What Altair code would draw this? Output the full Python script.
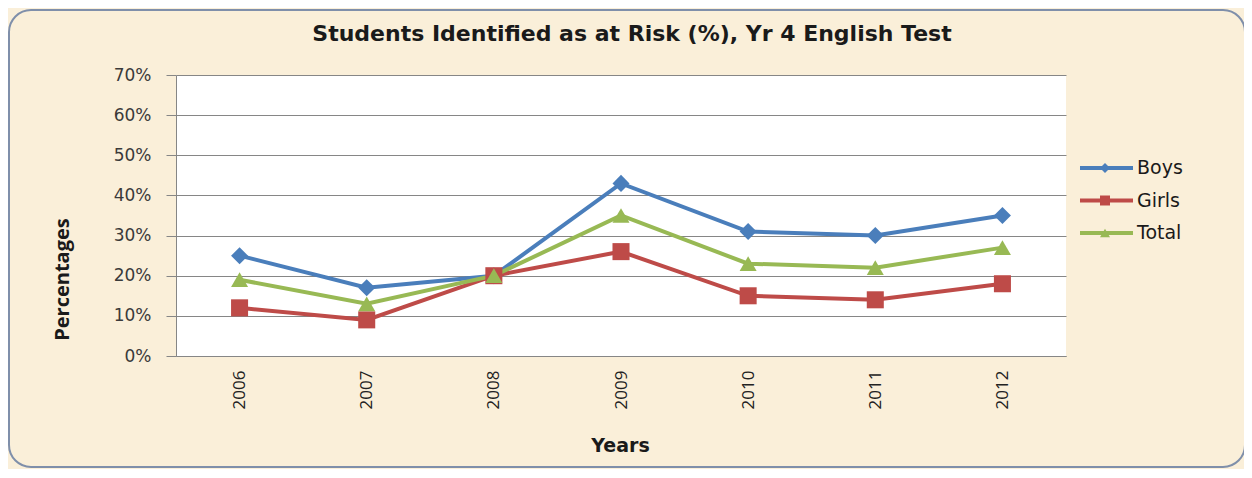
import altair as alt
import pandas as pd

years = ["2006", "2007", "2008", "2009", "2010", "2011", "2012"]
boys = [25, 17, 20, 43, 31, 30, 35]
girls = [12, 9, 20, 26, 15, 14, 18]
total = [19, 13, 20, 35, 23, 22, 27]
series = ["Boys", "Girls", "Total"]
colors = ["#4A7EBB", "#BE4B48", "#98B954"]
shapes = ["diamond", "square", "triangle-up"]
y_ticks = [0, 0.1, 0.2, 0.3, 0.4, 0.5, 0.6, 0.7]

rows = []
for name, vals in zip(series, [boys, girls, total]):
    for yr, v in zip(years, vals):
        rows.append({"Year": yr, "Series": name, "Value": v / 100})
df = pd.DataFrame(rows)
leg = pd.DataFrame({"Series": series})

W, H = 890, 281
color_scale = alt.Scale(domain=series, range=colors)
shape_scale = alt.Scale(domain=series, range=shapes)
x_scale = alt.Scale(type="point", padding=0.5)

x_enc = alt.X(
    "Year:O",
    scale=x_scale,
    axis=alt.Axis(
        title="Years", labelAngle=270, ticks=False, domain=True, domainColor="#868686",
        labelFont="Open Sans", labelFontSize=17, labelColor="#222222", labelPadding=14,
        titleFont="DejaVu Sans", titleFontSize=19, titleFontWeight="bold", titleColor="#1a1a1a",
        titleX=444, titleY=89, titleBaseline="middle", titleAlign="center",
    ),
)
y_scale = alt.Scale(domain=[0, 0.7], nice=False, zero=True)
y_enc = alt.Y(
    "Value:Q",
    scale=y_scale,
    axis=alt.Axis(
        title="Percentages", format=".0%", values=y_ticks, grid=True, gridColor="#868686",
        gridWidth=1, tickSize=10, tickColor="#868686", domainColor="#868686",
        labelFont="DejaVu Sans", labelFontSize=17, labelColor="#3a3a3a", labelPadding=15,
        titleFont="Open Sans", titleFontSize=20, titleFontWeight="bold", titleColor="#1a1a1a",
        titleX=-114, titleY=204, titleAngle=270, titleAlign="center", titleBaseline="middle",
    ),
)

frame = alt.Chart(alt.Data(values=[{"k": 1}])).mark_rect(
    fillOpacity=0, stroke="#7F8FAA", strokeWidth=2, cornerRadius=22
).encode(x=alt.value(-167), x2=alt.value(1069), y=alt.value(-65), y2=alt.value(392))

lines = alt.Chart(df).mark_line(strokeWidth=4).encode(
    x=x_enc, y=y_enc,
    color=alt.Color("Series:N", scale=color_scale, legend=None),
)
points = alt.Chart(df).mark_point(filled=True, size=290, opacity=1).encode(
    x=x_enc,
    y=alt.Y("Value:Q", scale=y_scale, axis=None),
    color=alt.Color("Series:N", scale=color_scale, legend=None),
    shape=alt.Shape("Series:N", scale=shape_scale, legend=None),
)

leg_y = alt.Y("Series:N", scale=alt.Scale(type="point", domain=series, range=[93, 158], padding=0), axis=None)
leg_rule = alt.Chart(leg).mark_rule(strokeWidth=4).encode(
    y=leg_y, x=alt.value(904), x2=alt.value(957),
    color=alt.Color("Series:N", scale=color_scale, legend=None),
)
leg_pt = alt.Chart(leg).mark_point(filled=True, size=100, opacity=1).encode(
    y=leg_y, x=alt.value(929),
    color=alt.Color("Series:N", scale=color_scale, legend=None),
    shape=alt.Shape("Series:N", scale=shape_scale, legend=None),
)
leg_txt = alt.Chart(leg).mark_text(
    align="left", baseline="middle", font="DejaVu Sans", fontSize=19, color="#1a1a1a"
).encode(y=leg_y, x=alt.value(961), text="Series:N")

chart = alt.layer(frame, lines, points, leg_rule, leg_pt, leg_txt).resolve_scale(
    y="independent"
).properties(
    width=W, height=H,
    autosize=alt.AutoSizeParams(type="none"),
    padding={"left": 168, "top": 67, "right": 178, "bottom": 113},
    title=alt.TitleParams(
        text="Students Identified as at Risk (%), Yr 4 English Test",
        font="DejaVu Sans", fontSize=22, fontWeight="bold", color="#1a1a1a",
        anchor="middle", frame="group", dx=11, offset=26, dy=63,
    ),
).configure(background="#FAEFD9").configure_view(fill="white", stroke=None)

chart.save("out.html", embed_options={"renderer": "svg", "actions": False})
